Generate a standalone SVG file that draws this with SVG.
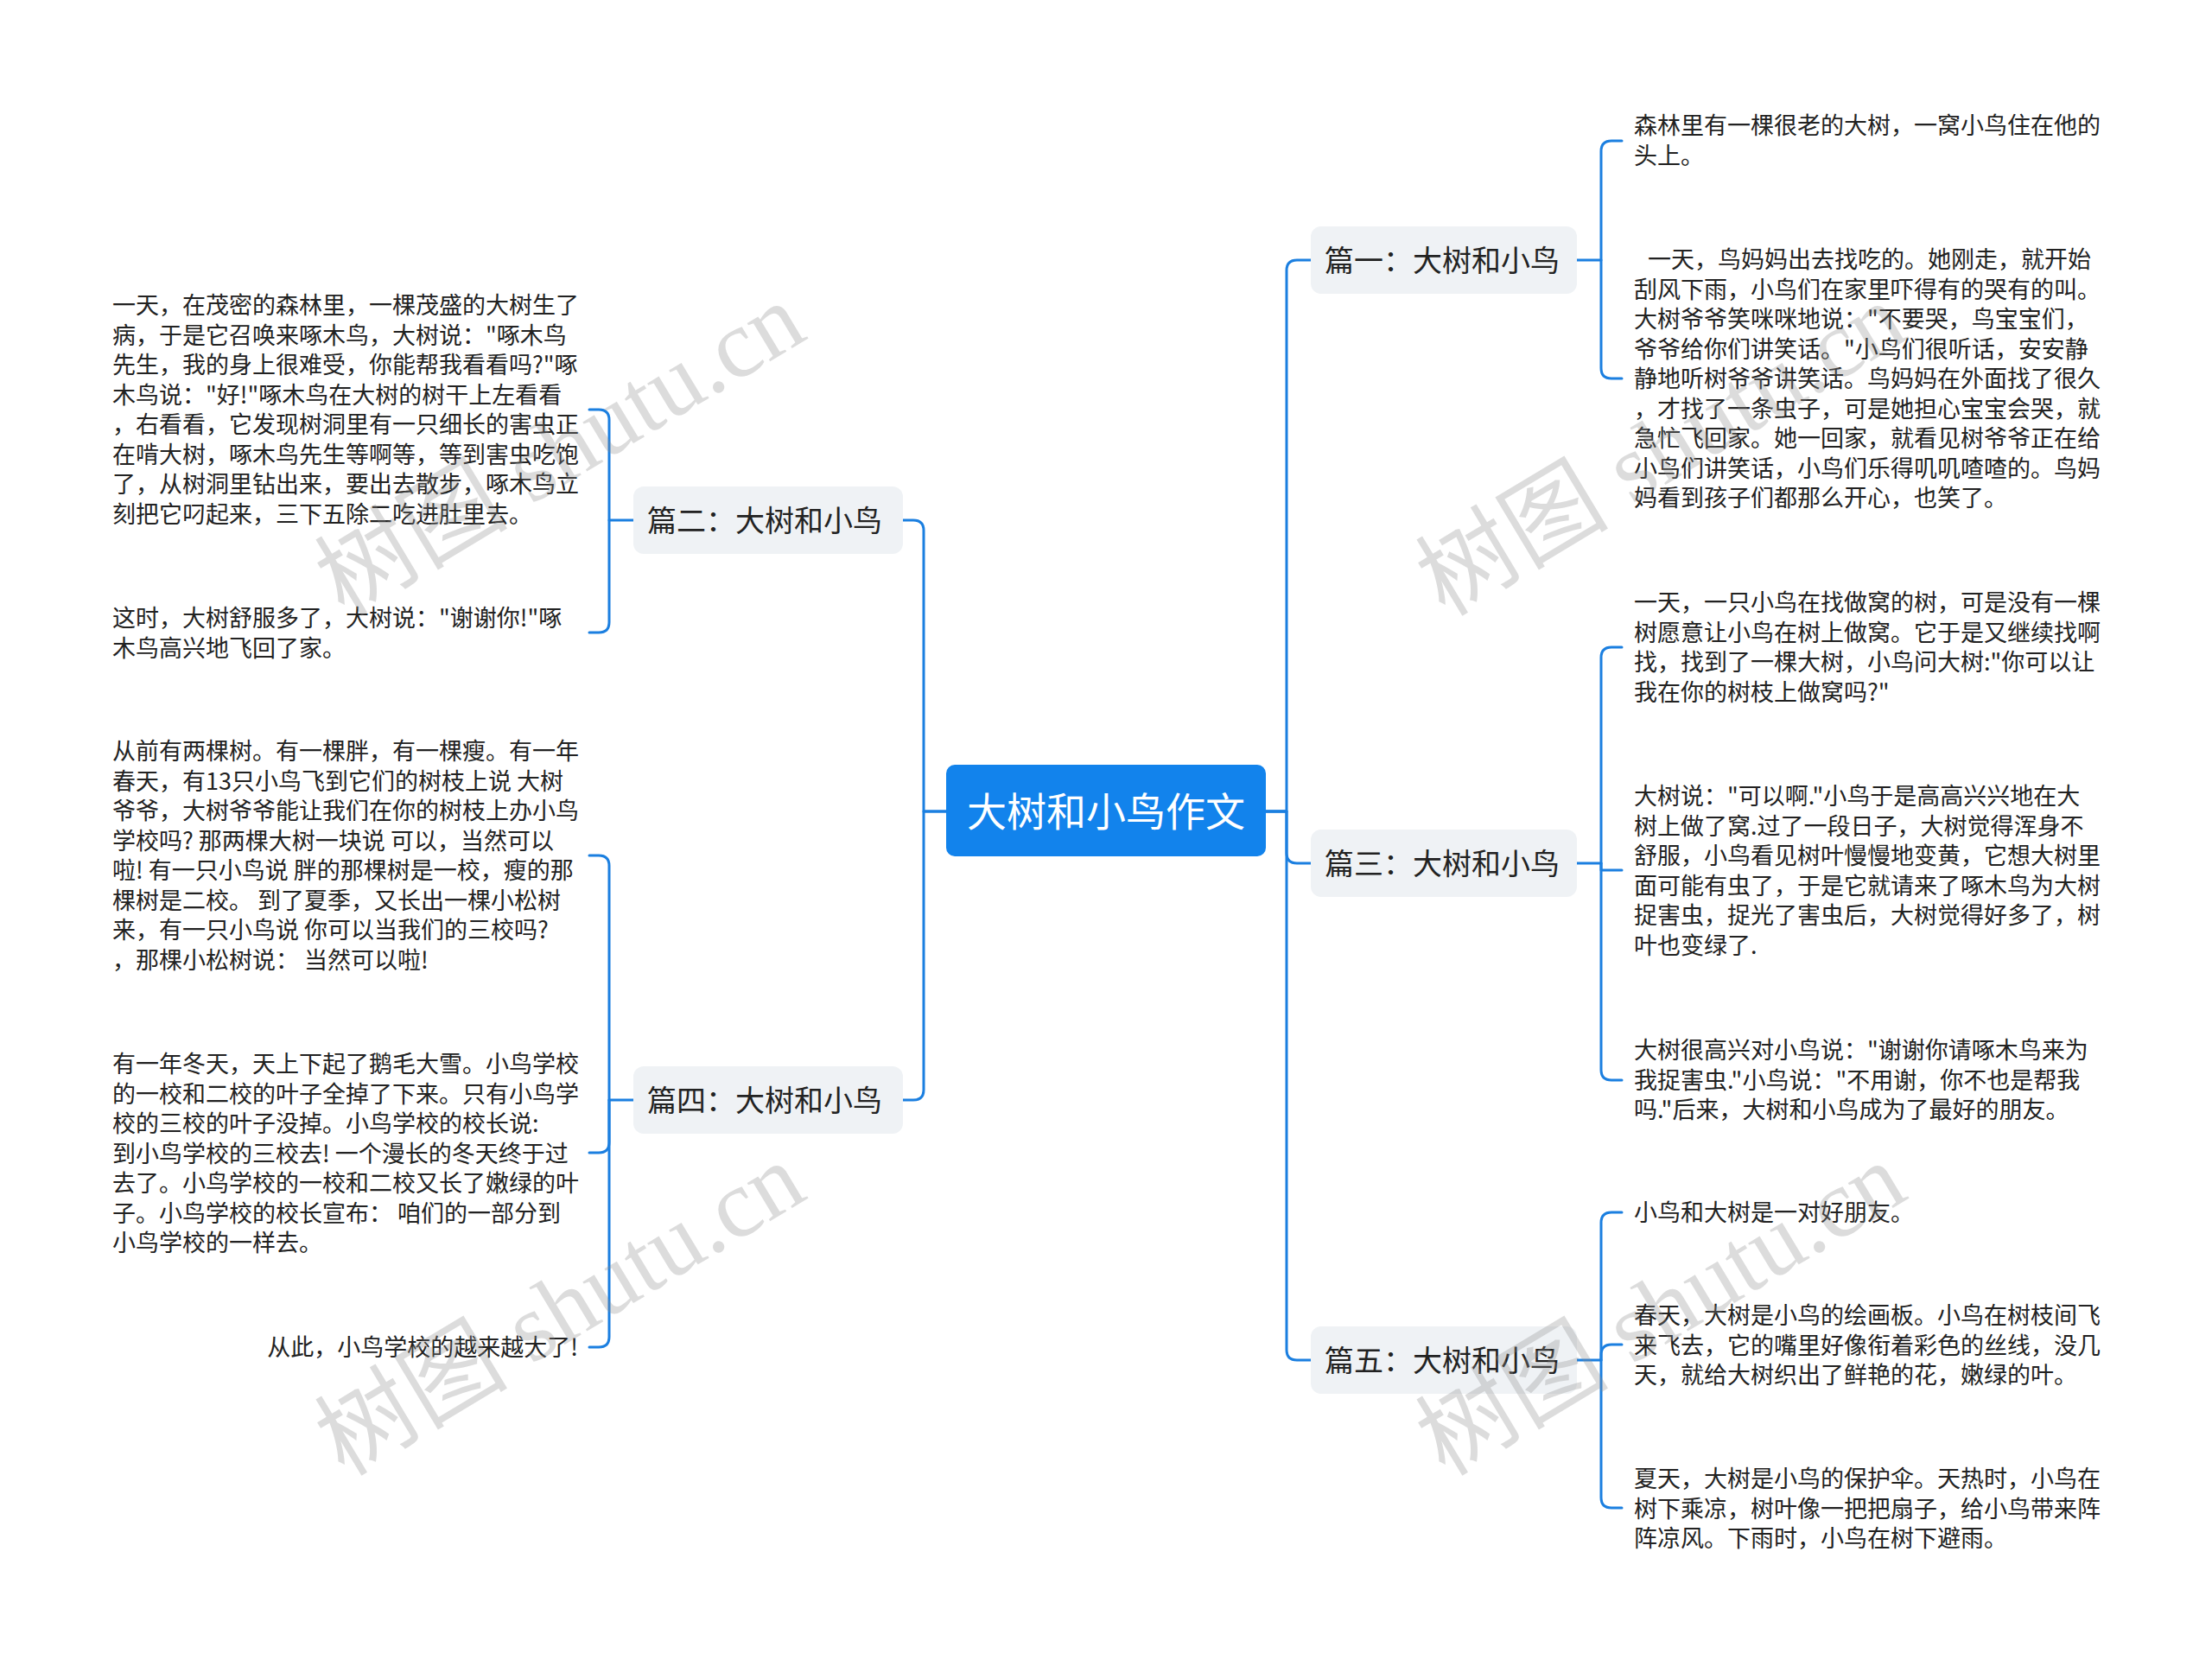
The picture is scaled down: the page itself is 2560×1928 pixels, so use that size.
<svg xmlns="http://www.w3.org/2000/svg" width="2560" height="1928" viewBox="0 0 2560 1928">
<style>
.leaf{font-family:"Noto Sans CJK SC","Noto Sans",sans-serif;font-size:27px;fill:#222;}
.br{font-family:"Noto Sans CJK SC","Noto Sans",sans-serif;font-size:34px;fill:#222;}
.rt{font-family:"Noto Sans CJK SC","Noto Sans",sans-serif;font-size:46px;fill:#ffffff;}
.box{fill:#eff2f5;}
.con{fill:none;stroke:#1b7fe0;stroke-width:3;stroke-linecap:round;stroke-linejoin:round;}
.wm{font-family:"Liberation Serif","Noto Sans CJK SC",serif;font-size:112px;fill:#8a8a8a;fill-opacity:0.3;}
</style>
<rect x="0" y="0" width="2560" height="1928" fill="#ffffff"/>
<g id="connectors">
<path class="con" d="M1465,939 H1489 V313 Q1489,301 1501,301 H1517"/>
<path class="con" d="M1465,939 H1489 V987 Q1489,999 1501,999 H1517"/>
<path class="con" d="M1465,939 H1489 V1562 Q1489,1574 1501,1574 H1517"/>
<path class="con" d="M1095,939 H1069 V614 Q1069,602 1057,602 H1045"/>
<path class="con" d="M1095,939 H1069 V1261 Q1069,1273 1057,1273 H1045"/>
<path class="con" d="M1825,301 H1853 V175 Q1853,163 1865,163 H1877"/>
<path class="con" d="M1853,301 V426 Q1853,438 1865,438 H1877"/>
<path class="con" d="M733,602 H705 V486 Q705,474 693,474 H682"/>
<path class="con" d="M705,602 V720 Q705,732 693,732 H682"/>
<path class="con" d="M1825,999 H1853 V761 Q1853,749 1865,749 H1877"/>
<path class="con" d="M1853,999 V1007 H1877"/>
<path class="con" d="M1853,999 V1238 Q1853,1250 1865,1250 H1877"/>
<path class="con" d="M733,1273 H705 V1002 Q705,990 693,990 H682"/>
<path class="con" d="M705,1273 V1322 Q705,1334 693,1334 H682"/>
<path class="con" d="M705,1273 V1547 Q705,1559 693,1559 H682"/>
<path class="con" d="M1825,1574 H1853 V1415 Q1853,1403 1865,1403 H1877"/>
<path class="con" d="M1853,1574 V1568 Q1853,1556 1865,1556 H1877"/>
<path class="con" d="M1853,1574 V1733 Q1853,1745 1865,1745 H1877"/>
</g>
<g id="root">
<rect x="1095" y="885" width="370" height="106" rx="10" fill="#1283ec"/>
<text class="rt" x="1280" y="956" text-anchor="middle">大树和小鸟作文</text>
</g>
<g id="b1">
<rect class="box" x="1517" y="262" width="308" height="78" rx="12"/>
<text class="br" x="1533" y="314">篇一：大树和小鸟</text>
</g>
<g id="b2">
<rect class="box" x="733" y="563" width="312" height="78" rx="12"/>
<text class="br" x="749" y="615">篇二：大树和小鸟</text>
</g>
<g id="b3">
<rect class="box" x="1517" y="960" width="308" height="78" rx="12"/>
<text class="br" x="1533" y="1012">篇三：大树和小鸟</text>
</g>
<g id="b4">
<rect class="box" x="733" y="1234" width="312" height="78" rx="12"/>
<text class="br" x="749" y="1286">篇四：大树和小鸟</text>
</g>
<g id="b5">
<rect class="box" x="1517" y="1535" width="308" height="78" rx="12"/>
<text class="br" x="1533" y="1587">篇五：大树和小鸟</text>
</g>
<g id="l1a"><text class="leaf">
<tspan x="1891" y="155">森林里有一棵很老的大树，一窝小鸟住在他的</tspan>
<tspan x="1891" y="190">头上。</tspan>
</text></g>
<g id="l1b"><text class="leaf">
<tspan x="1907" y="310">一天，鸟妈妈出去找吃的。她刚走，就开始</tspan>
<tspan x="1891" y="345">刮风下雨，小鸟们在家里吓得有的哭有的叫。</tspan>
<tspan x="1891" y="379">大树爷爷笑咪咪地说："不要哭，鸟宝宝们，</tspan>
<tspan x="1891" y="414">爷爷给你们讲笑话。"小鸟们很听话，安安静</tspan>
<tspan x="1891" y="448">静地听树爷爷讲笑话。鸟妈妈在外面找了很久</tspan>
<tspan x="1891" y="483">，才找了一条虫子，可是她担心宝宝会哭，就</tspan>
<tspan x="1891" y="517">急忙飞回家。她一回家，就看见树爷爷正在给</tspan>
<tspan x="1891" y="552">小鸟们讲笑话，小鸟们乐得叽叽喳喳的。鸟妈</tspan>
<tspan x="1891" y="586">妈看到孩子们都那么开心，也笑了。</tspan>
</text></g>
<g id="l2a"><text class="leaf">
<tspan x="130" y="363">一天，在茂密的森林里，一棵茂盛的大树生了</tspan>
<tspan x="130" y="398">病，于是它召唤来啄木鸟，大树说："啄木鸟</tspan>
<tspan x="130" y="432">先生，我的身上很难受，你能帮我看看吗?"啄</tspan>
<tspan x="130" y="467">木鸟说："好!"啄木鸟在大树的树干上左看看</tspan>
<tspan x="130" y="501">，右看看，它发现树洞里有一只细长的害虫正</tspan>
<tspan x="130" y="536">在啃大树，啄木鸟先生等啊等，等到害虫吃饱</tspan>
<tspan x="130" y="570">了，从树洞里钻出来，要出去散步，啄木鸟立</tspan>
<tspan x="130" y="605">刻把它叼起来，三下五除二吃进肚里去。</tspan>
</text></g>
<g id="l2b"><text class="leaf">
<tspan x="130" y="725">这时，大树舒服多了，大树说："谢谢你!"啄</tspan>
<tspan x="130" y="760">木鸟高兴地飞回了家。</tspan>
</text></g>
<g id="l3a"><text class="leaf">
<tspan x="1891" y="707">一天，一只小鸟在找做窝的树，可是没有一棵</tspan>
<tspan x="1891" y="742">树愿意让小鸟在树上做窝。它于是又继续找啊</tspan>
<tspan x="1891" y="776">找，找到了一棵大树，小鸟问大树:"你可以让</tspan>
<tspan x="1891" y="811">我在你的树枝上做窝吗?"</tspan>
</text></g>
<g id="l3b"><text class="leaf">
<tspan x="1891" y="931">大树说："可以啊."小鸟于是高高兴兴地在大</tspan>
<tspan x="1891" y="966">树上做了窝.过了一段日子，大树觉得浑身不</tspan>
<tspan x="1891" y="1000">舒服，小鸟看见树叶慢慢地变黄，它想大树里</tspan>
<tspan x="1891" y="1035">面可能有虫了，于是它就请来了啄木鸟为大树</tspan>
<tspan x="1891" y="1069">捉害虫，捉光了害虫后，大树觉得好多了，树</tspan>
<tspan x="1891" y="1104">叶也变绿了.</tspan>
</text></g>
<g id="l3c"><text class="leaf">
<tspan x="1891" y="1225">大树很高兴对小鸟说："谢谢你请啄木鸟来为</tspan>
<tspan x="1891" y="1260">我捉害虫."小鸟说："不用谢，你不也是帮我</tspan>
<tspan x="1891" y="1294">吗."后来，大树和小鸟成为了最好的朋友。</tspan>
</text></g>
<g id="l4a"><text class="leaf">
<tspan x="130" y="879">从前有两棵树。有一棵胖，有一棵瘦。有一年</tspan>
<tspan x="130" y="914">春天，有13只小鸟飞到它们的树枝上说 大树</tspan>
<tspan x="130" y="948">爷爷，大树爷爷能让我们在你的树枝上办小鸟</tspan>
<tspan x="130" y="983">学校吗? 那两棵大树一块说 可以，当然可以</tspan>
<tspan x="130" y="1017">啦! 有一只小鸟说 胖的那棵树是一校，瘦的那</tspan>
<tspan x="130" y="1052">棵树是二校。 到了夏季，又长出一棵小松树</tspan>
<tspan x="130" y="1086">来，有一只小鸟说 你可以当我们的三校吗?</tspan>
<tspan x="130" y="1121">，那棵小松树说： 当然可以啦!</tspan>
</text></g>
<g id="l4b"><text class="leaf">
<tspan x="130" y="1241">有一年冬天，天上下起了鹅毛大雪。小鸟学校</tspan>
<tspan x="130" y="1276">的一校和二校的叶子全掉了下来。只有小鸟学</tspan>
<tspan x="130" y="1310">校的三校的叶子没掉。小鸟学校的校长说:</tspan>
<tspan x="130" y="1345">到小鸟学校的三校去! 一个漫长的冬天终于过</tspan>
<tspan x="130" y="1379">去了。小鸟学校的一校和二校又长了嫩绿的叶</tspan>
<tspan x="130" y="1414">子。小鸟学校的校长宣布： 咱们的一部分到</tspan>
<tspan x="130" y="1448">小鸟学校的一样去。</tspan>
</text></g>
<g id="l4c"><text class="leaf">
<tspan x="669" y="1569" text-anchor="end">从此，小鸟学校的越来越大了!</tspan>
</text></g>
<g id="l5a"><text class="leaf">
<tspan x="1891" y="1413">小鸟和大树是一对好朋友。</tspan>
</text></g>
<g id="l5b"><text class="leaf">
<tspan x="1891" y="1532">春天，大树是小鸟的绘画板。小鸟在树枝间飞</tspan>
<tspan x="1891" y="1567">来飞去，它的嘴里好像衔着彩色的丝线，没几</tspan>
<tspan x="1891" y="1601">天，就给大树织出了鲜艳的花，嫩绿的叶。</tspan>
</text></g>
<g id="l5c"><text class="leaf">
<tspan x="1891" y="1721">夏天，大树是小鸟的保护伞。天热时，小鸟在</tspan>
<tspan x="1891" y="1756">树下乘凉，树叶像一把把扇子，给小鸟带来阵</tspan>
<tspan x="1891" y="1790">阵凉风。下雨时，小鸟在树下避雨。</tspan>
</text></g>
<g id="watermarks">
<text class="wm" x="648" y="558" text-anchor="middle" transform="rotate(-31 648 520)">树图 shutu.cn</text>
<text class="wm" x="648" y="1553" text-anchor="middle" transform="rotate(-31 648 1515)">树图 shutu.cn</text>
<text class="wm" x="1922" y="558" text-anchor="middle" transform="rotate(-31 1922 520)">树图 shutu.cn</text>
<text class="wm" x="1922" y="1553" text-anchor="middle" transform="rotate(-31 1922 1515)">树图 shutu.cn</text>
</g>
</svg>
